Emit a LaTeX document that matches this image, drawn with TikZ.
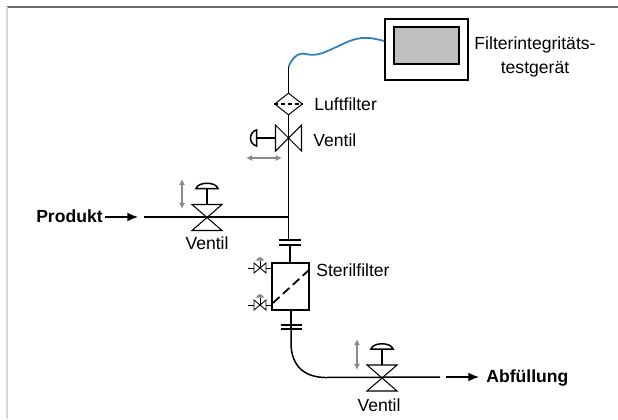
\documentclass[tikz,border=0pt]{standalone}
\usepackage{fontspec}
\setmainfont{Liberation Sans}
\usetikzlibrary{positioning, calc, arrows.meta, shapes.geometric}
\definecolor{cablecol}{HTML}{2F7FC4}
\definecolor{movecol}{HTML}{8A8A8A}
\tikzset{
    pipe/.style = {line width=0.85pt},
    flow/.style = {line width=0.85pt, -{Latex[length=6pt,width=5pt]}},
    movearrow/.style = {movecol, line width=0.8pt, {Latex[length=3.5pt,width=3.5pt]}-{Latex[length=3.5pt,width=3.5pt]}},
    tag/.style = {font=\fontsize{10pt}{12pt}\selectfont, inner sep=0pt},
    boldtag/.style = {tag, font=\fontsize{10pt}{12pt}\selectfont\bfseries},
    pics/flowvalve/.style = {code = {
        \draw[line width=0.6pt] (-15,-13) -- (15,-13) -- (-15,13) -- (15,13) -- cycle;
        \draw[line width=0.85pt] (0,-13) -- (0,-29);
        \draw[line width=0.85pt, fill=white] (-11,-29) -- (11,-29) .. controls (9,-36) and (-9,-36) .. (-11,-29) -- cycle;
    }},
    pics/sidevalve/.style = {code = {
        \draw[line width=0.6pt] (0,0) -- (-13,-13) -- (-13,13) -- cycle;
        \draw[line width=0.6pt] (0,0) -- (13,-13) -- (13,13) -- cycle;
        \draw[line width=0.85pt] (-13,0) -- (-32,0);
        \draw[line width=0.85pt, fill=white] (-32,-8) .. controls (-40,-6) and (-40,6) .. (-32,8) -- cycle;
    }},
    pics/tinyvalve/.style = {code = {
        \draw[line width=0.5pt] (-6,-5) -- (-6,5) -- (6,-5) -- (6,5) -- cycle;
        \draw[line width=0.5pt] (0,0) -- (0,-7);
        \draw[movecol, line width=0.6pt, fill=movecol] (-3,-8) -- (3,-8) .. controls (2,-11) and (-2,-11) .. (-3,-8) -- cycle;
    }},
}
\begin{document}
\begin{tikzpicture}[x=0.02cm, y=-0.02cm]
    \useasboundingbox (0,0) rectangle (618,419);

    % frame of the page
    \draw[gray!85!black, line width=0.6pt] (7,7) -- (618,7);
    \draw[black!15, line width=0.6pt] (7,7) -- (7,419);

    % test device
    \node[draw, line width=0.9pt, minimum width=83*0.02cm, minimum height=61*0.02cm, inner sep=0pt] (device) at (426.5,49.5) {};
    \node[draw, line width=0.9pt, fill=black!25, minimum width=65*0.02cm, minimum height=37*0.02cm, inner sep=0pt] (screen) at (426.5,45.5) {};
    \node[tag, align=center] (devicelabel) at (535,57) {Filterintegritäts-\\[1.5pt]testgerät};

    % air filter and upper line
    \coordinate (cableend) at (288.5,67);
    \node[draw, line width=0.55pt, shape=diamond, minimum width=28*0.02cm, minimum height=22*0.02cm, inner sep=0pt] (airfilter) at (288.5,104) {};
    \node[tag, anchor=west] (airlabel) at (314,104.5) {Luftfilter};
    \draw[line width=0.6pt, dash pattern=on 2.5pt off 1.5pt] (airfilter.west) -- (airfilter.east);
    \draw[cablecol, line width=1pt] (device.west |- 0,41) .. controls (372,38) and (362,35) .. (345,43) .. controls (325,52) and (318,57) .. (306,54) .. controls (298,52) and (292,58) .. (cableend);
    \draw[pipe] (cableend) -- (airfilter.north);

    % main line
    \coordinate (tee) at (288.5,217);
    \draw[pipe] (airfilter.south) -- (tee);

    % valve in the main line
    \pic at (288.5,138) {sidevalve};
    \node[tag, anchor=west] (ventlabel) at (313,140) {Ventil};
    \draw[movearrow] (246,158) -- (282,158);

    % product inlet
    \node[boldtag, anchor=east] (product) at (103,216) {Produkt};
    \coordinate (inletstart) at (105,217);
    \coordinate (inletend) at (138,217);
    \coordinate (pipestart) at (144,217);
    \draw[flow] (inletstart) -- (inletend);
    \draw[pipe] (pipestart) -- (tee);
    \pic at (207,217.5) {flowvalve};
    \node[tag] (inletlabel) at (207,243) {Ventil};
    \draw[movearrow] (182,179) -- (182,209);

    % flange above filter
    \coordinate (flangeup) at (290,240);
    \coordinate (flangeuplow) at (290,245);
    \draw[pipe] (tee) -- (288.5,240);
    \draw[line width=1pt] (279,240) -- (301,240);
    \draw[line width=1pt] (279,245) -- (301,245);

    % sterile filter
    \node[draw, line width=1pt, minimum width=37*0.02cm, minimum height=47*0.02cm, inner sep=0pt] (sterile) at (290.5,286.5) {};
    \draw[pipe] (flangeuplow) -- (flangeuplow |- sterile.north);
    \draw[line width=1pt, dash pattern=on 5pt off 2.6pt] ($(sterile.south west)+(2,-8)$) -- ($(sterile.north east)+(0,7)$);
    \node[tag, anchor=west] (sterilelabel) at (316,270) {Sterilfilter};

    % sample valves
    \pic at (260,268) {tinyvalve};
    \pic at (260,305) {tinyvalve};
    \draw[line width=0.5pt] (248,268) -- (254,268) (266,268) -- (sterile.west |- 0,268);
    \draw[line width=0.5pt] (248,305) -- (254,305) (266,305) -- (sterile.west |- 0,305);

    % flange below filter
    \draw[line width=1pt] (281,325) -- (302,325);
    \draw[line width=1pt] (281,329) -- (302,329);
    \coordinate (flangelow) at (291,329);
    \draw[pipe] (sterile.south -| flangelow) -- (flangelow);

    % filling line
    \coordinate (pipeend) at (440,377);
    \draw[pipe] (flangelow) -- (291,345) .. controls (292,365) and (303,377) .. (325,377.5) -- (pipeend);
    \pic at (382,378) {flowvalve};
    \node[tag] (filllabel) at (379,405) {Ventil};
    \draw[movearrow] (357,339) -- (357,370);
    \coordinate (outletstart) at (446,377);
    \coordinate (outletend) at (479,377);
    \draw[flow] (outletstart) -- (outletend);
    \node[boldtag, anchor=west] (filling) at (486,378) {Abfüllung};
\end{tikzpicture}
\end{document}
